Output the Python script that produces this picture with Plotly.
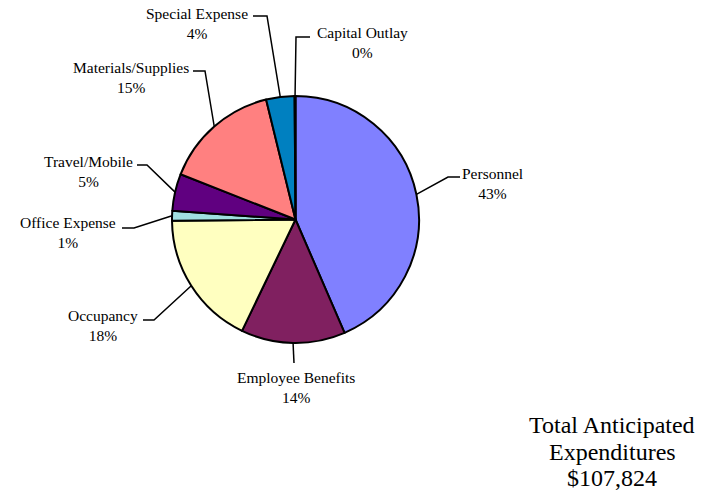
import math
import plotly.graph_objects as go

# Budget categories, clockwise from 12 o'clock
categories = ["Personnel", "Employee Benefits", "Occupancy", "Office Expense",
              "Travel/Mobile", "Materials/Supplies", "Special Expense", "Capital Outlay"]
amounts = [46900, 14700, 19100, 1400, 5200, 16400, 4000, 124]
slice_colors = ["#8080FF", "#802060", "#FFFFC0", "#A0E0E0",
                "#600080", "#FF8080", "#0080C0", "#C0C0FF"]

total_label = ["Total Anticipated", "Expenditures"]

W, H = 719, 493
CX, CY, R = 295.5, 219.5, 123.5  # pie centre / radius in pixels
SERIF = "Times New Roman, Liberation Serif, DejaVu Serif, serif"

# label block centre, leader elbow, leader end (pixels)
label_layout = [
    ((492, 183), (448, 177), (460, 177)),
    ((296, 387), (294, 363), None),
    ((103, 325), (154, 320), (143, 320)),
    ((68, 233), (134, 228), (122, 228)),
    ((88, 172), (147, 165), (137, 165)),
    ((131, 78), (205, 71), (193, 71)),
    ((197, 23), (267, 16), (253, 16)),
    ((362, 42), (296, 37), (310, 37)),
]
# centre x and line centres y for the total block (pixels)
total_x, total_line_y = 612, [425, 452, 478]


def px(x):
    return x / W


def py(y):
    return 1 - y / H


total = sum(amounts)

fig = go.Figure(go.Pie(
    labels=categories,
    values=amounts,
    sort=False,
    direction="clockwise",
    rotation=0,
    marker=dict(colors=slice_colors, line=dict(color="black", width=2)),
    textinfo="none",
    hoverinfo="label+value+percent",
    showlegend=False,
    domain=dict(x=[px(CX - R), px(CX + R)], y=[py(CY + R), py(CY - R)]),
))

shapes = []
annotations = []
cum = 0.0
for name, val, (center, elbow, end) in zip(categories, amounts, label_layout):
    mid = (cum + val / 2) / total * 2 * math.pi
    cum += val
    ex = CX + R * math.sin(mid)
    ey = CY - R * math.cos(mid)
    path = f"M {px(ex)},{py(ey)} L {px(elbow[0])},{py(elbow[1])}"
    if end is not None:
        path += f" L {px(end[0])},{py(end[1])}"
    shapes.append(dict(type="path", xref="paper", yref="paper", path=path,
                       line=dict(color="black", width=1.5)))
    pct = round(val / total * 100)
    annotations.append(dict(
        x=px(center[0]), y=py(center[1]), xref="paper", yref="paper",
        text=f"{name}<br>{pct}%", showarrow=False,
        xanchor="center", yanchor="middle",
        font=dict(family=SERIF, size=15.5, color="black"),
    ))

for line, ly in zip(total_label + [f"${total:,}"], total_line_y):
    annotations.append(dict(
        x=px(total_x), y=py(ly), xref="paper", yref="paper",
        text=line, showarrow=False, xanchor="center", yanchor="middle",
        font=dict(family=SERIF, size=24, color="black"),
    ))

fig.update_layout(
    width=W, height=H,
    margin=dict(l=0, r=0, t=0, b=0),
    paper_bgcolor="white", plot_bgcolor="white",
    font=dict(family=SERIF),
    shapes=shapes, annotations=annotations,
)

fig.write_html("out.html")
